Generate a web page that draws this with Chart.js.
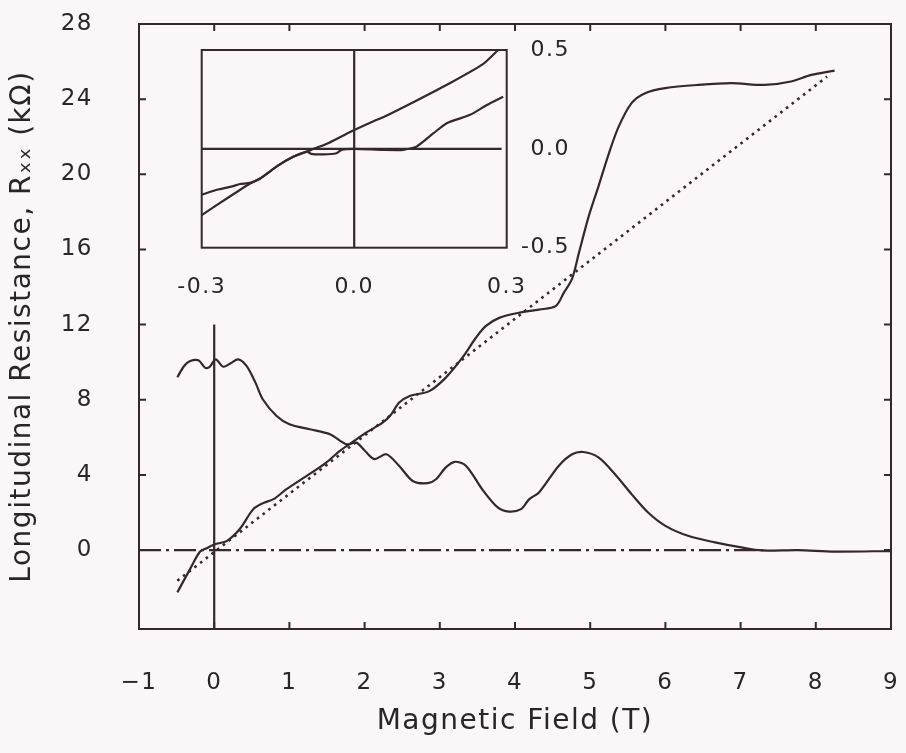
<!DOCTYPE html>
<html>
<head>
<meta charset="utf-8">
<title>Longitudinal resistance vs magnetic field</title>
<script src="https://cdn.jsdelivr.net/npm/chart.js@4.4.1/dist/chart.umd.min.js"></script>
<style>
  html, body { margin: 0; padding: 0; background: #fbf6f7; }
  #wrap { position: relative; width: 906px; height: 753px; }
  #mainChart { position: absolute; left: 0; top: 0; }
  #insetChart { position: absolute; left: 160px; top: 40px; }
</style>
</head>
<body>
<div id="wrap">
  <canvas id="mainChart" width="906" height="753"></canvas>
  <canvas id="insetChart" width="410" height="270"></canvas>
</div>
<script>
const ink = '#35282c';
const textInk = '#2a2527';
const family = "'DejaVu Sans', sans-serif";

// main panel: field in T, resistance in kOhm
const rxxField = [-0.49, -0.4, -0.32, -0.21, -0.12, -0.06, 0.02, 0.12, 0.22, 0.32, 0.43, 0.55, 0.65, 0.83, 1.0,
  1.27, 1.54, 1.76, 1.89, 2.0, 2.13, 2.29, 2.46, 2.64, 2.84, 2.95, 3.08, 3.2, 3.35, 3.57, 3.77, 3.92, 4.08,
  4.19, 4.32, 4.58, 4.76, 4.91, 5.11, 5.33, 5.55, 5.77, 6.0, 6.3, 6.66, 7.01, 7.28, 7.76, 8.25, 9.0];
const rxxValues = [9.2, 9.8, 10.06, 10.1, 9.7, 9.75, 10.15, 9.76, 9.95, 10.15, 9.8, 8.9, 8.0, 7.14, 6.7,
  6.43, 6.16, 5.63, 5.72, 5.3, 4.84, 5.1, 4.48, 3.68, 3.56, 3.77, 4.4, 4.7, 4.48, 3.2, 2.27, 2.05, 2.18,
  2.71, 3.07, 4.48, 5.1, 5.22, 4.93, 4.04, 2.98, 2.0, 1.29, 0.76, 0.41, 0.14, -0.02, 0.0, -0.08, -0.05];

const rxyField = [-0.49, -0.32, -0.19, -0.1, 0.02, 0.17, 0.34, 0.52, 0.65, 0.79, 0.96, 1.23, 1.49, 1.67,
  1.85, 2.02, 2.24, 2.35, 2.46, 2.6, 2.86, 3.08, 3.3, 3.48, 3.61, 3.79, 4.05, 4.32, 4.54, 4.65, 4.76,
  4.85, 4.98, 5.11, 5.25, 5.38, 5.55, 5.73, 6.0, 6.44, 6.88, 7.32, 7.67, 7.94, 8.25];
const rxyValues = [-2.25, -1.0, -0.09, 0.1, 0.32, 0.49, 1.12, 2.18, 2.5, 2.71, 3.24, 3.95, 4.66, 5.28,
  5.78, 6.25, 6.78, 7.2, 7.85, 8.2, 8.46, 9.18, 10.24, 11.3, 11.92, 12.36, 12.63, 12.8, 12.98, 13.7, 14.45,
  15.82, 17.76, 19.36, 21.13, 22.55, 23.79, 24.32, 24.59, 24.76, 24.85, 24.76, 24.94, 25.29, 25.52];

const classicalField = [-0.49, 8.15];
const classicalValues = [-1.63, 25.2];
const zeroField = [-1, 7.3];
const zeroValues = [0, 0];
const markerField = [0, 0];
const markerValues = [12, -4.2];

const xTicks = [-1, 0, 1, 2, 3, 4, 5, 6, 7, 8, 9];
const yTicks = [0, 4, 8, 12, 16, 20, 24, 28];

// inset: low-field sweep
const insetFieldA = [-0.3, -0.25, -0.205, -0.185, -0.15, -0.12, -0.093, -0.08, -0.05, 0.0, 0.038, 0.057,
  0.123, 0.188, 0.254, 0.283];
const insetValuesA = [-0.335, -0.25, -0.175, -0.15, -0.085, -0.04, -0.014, 0.0, 0.03, 0.095, 0.14, 0.16,
  0.245, 0.332, 0.43, 0.5];
const insetFieldB = [-0.3, -0.27, -0.24, -0.225, -0.205, -0.185, -0.15, -0.12, -0.093, -0.085, -0.06,
  -0.035, -0.025, 0.0, 0.057, 0.097, 0.123, 0.156, 0.182, 0.228, 0.261, 0.293];
const insetValuesB = [-0.232, -0.207, -0.19, -0.178, -0.172, -0.15, -0.085, -0.04, -0.014, -0.025, -0.028,
  -0.022, -0.005, 0.0, -0.005, -0.005, 0.012, 0.079, 0.13, 0.172, 0.222, 0.264];
const insetZeroField = [-0.3, 0.29];
const insetZeroValues = [0, 0];
const insetMarkerField = [0, 0];
const insetMarkerValues = [-0.5, 0.5];

const insetXTicks = [-0.3, 0, 0.3];
const insetYTicks = [-0.5, 0, 0.5];

function pts(xs, ys) {
  return xs.map((x, i) => ({ x: x, y: ys[i] }));
}

function lineSet(xs, ys, extra) {
  return Object.assign({
    data: pts(xs, ys),
    borderColor: ink,
    borderWidth: 2.2,
    pointRadius: 0,
    tension: 0,
    fill: false
  }, extra || {});
}

// fixed axis box size; drop the label overhang padding so the plot area stays put
function fixedSize(prop, size) {
  return s => {
    s[prop] = size;
    s.paddingLeft = s.paddingRight = s.paddingTop = s.paddingBottom = 0;
  };
}

// box around the plot area, with inward tick marks
function framePlugin(tickLen) {
  return {
    id: 'frame',
    beforeDraw(chart) {
      chart.ctx.letterSpacing = '1.5px';
    },
    afterDraw(chart) {
      const { ctx, chartArea: a, scales } = chart;
      ctx.save();
      ctx.strokeStyle = ink;
      ctx.lineWidth = 2;
      ctx.strokeRect(a.left, a.top, a.right - a.left, a.bottom - a.top);
      if (tickLen) {
        ctx.beginPath();
        scales.x.ticks.forEach(t => {
          if (t.value <= scales.x.min || t.value >= scales.x.max) return;
          const px = scales.x.getPixelForValue(t.value);
          ctx.moveTo(px, a.top); ctx.lineTo(px, a.top + tickLen);
          ctx.moveTo(px, a.bottom); ctx.lineTo(px, a.bottom - tickLen);
        });
        scales.y.ticks.forEach(t => {
          if (t.value <= scales.y.min || t.value >= scales.y.max) return;
          const py = scales.y.getPixelForValue(t.value);
          ctx.moveTo(a.left, py); ctx.lineTo(a.left + tickLen, py);
          ctx.moveTo(a.right, py); ctx.lineTo(a.right - tickLen, py);
        });
        ctx.stroke();
      }
      ctx.restore();
    }
  };
}

const minus = v => (v < 0 ? '\u2212' + Math.abs(v) : String(v));
const noGrid = { display: false, drawTicks: false };

new Chart(document.getElementById('mainChart'), {
  type: 'line',
  data: {
    datasets: [
      lineSet(markerField, markerValues),
      lineSet(zeroField, zeroValues, { borderDash: [22, 5, 3, 5] }),
      lineSet(classicalField, classicalValues, { borderWidth: 2.6, borderDash: [2.6, 4.6] }),
      lineSet(rxyField, rxyValues, { tension: 0.3 }),
      lineSet(rxxField, rxxValues, { tension: 0.3 })
    ]
  },
  options: {
    responsive: false,
    animation: false,
    events: [],
    layout: { padding: { left: 0, top: 24, right: 15, bottom: 0 } },
    plugins: { legend: { display: false }, tooltip: { enabled: false } },
    scales: {
      x: {
        type: 'linear', min: -1, max: 9,
        afterBuildTicks: s => { s.ticks = xTicks.map(v => ({ value: v })); },
        afterFit: fixedSize('height', 124),
        grid: noGrid, border: { display: false },
        ticks: { autoSkip: false, maxRotation: 0, padding: 40, color: textInk,
          font: { family: family, size: 23 }, callback: v => minus(v) },
        title: { display: true, text: 'Magnetic Field (T)', color: textInk,
          font: { family: family, size: 28 }, padding: { top: 0, bottom: 14 } }
      },
      y: {
        type: 'linear', min: -4.2, max: 28,
        afterBuildTicks: s => { s.ticks = yTicks.map(v => ({ value: v })); },
        afterFit: fixedSize('width', 139),
        grid: noGrid, border: { display: false },
        ticks: { autoSkip: false, padding: 46, color: textInk,
          font: { family: family, size: 23 }, callback: v => minus(v) },
        title: { display: true, text: 'Longitudinal Resistance, R\u2093\u2093 (k\u03a9)', color: textInk,
          font: { family: family, size: 28 }, padding: { top: 6, bottom: 0 } }
      }
    }
  },
  plugins: [framePlugin(7)]
});

new Chart(document.getElementById('insetChart'), {
  type: 'line',
  data: {
    datasets: [
      lineSet(insetMarkerField, insetMarkerValues),
      lineSet(insetZeroField, insetZeroValues),
      lineSet(insetFieldA, insetValuesA, { tension: 0.2 }),
      lineSet(insetFieldB, insetValuesB, { tension: 0.2 })
    ]
  },
  options: {
    responsive: false,
    animation: false,
    events: [],
    layout: { padding: { left: 41.7, top: 10, right: 0, bottom: 0 } },
    plugins: { legend: { display: false }, tooltip: { enabled: false } },
    scales: {
      x: {
        type: 'linear', min: -0.3, max: 0.3,
        afterBuildTicks: s => { s.ticks = insetXTicks.map(v => ({ value: v })); },
        afterFit: fixedSize('height', 62.3),
        grid: noGrid, border: { display: false },
        ticks: { autoSkip: false, maxRotation: 0, padding: 26, color: textInk,
          font: { family: family, size: 22 }, callback: v => v.toFixed(1) }
      },
      y: {
        type: 'linear', position: 'right', min: -0.5, max: 0.5,
        afterBuildTicks: s => { s.ticks = insetYTicks.map(v => ({ value: v })); },
        afterFit: fixedSize('width', 63.3),
        grid: noGrid, border: { display: false },
        ticks: { autoSkip: false, crossAlign: 'far', padding: 0, color: textInk,
          font: { family: family, size: 22 }, callback: v => v.toFixed(1) }
      }
    }
  },
  plugins: [framePlugin(0)]
});
</script>
</body>
</html>
